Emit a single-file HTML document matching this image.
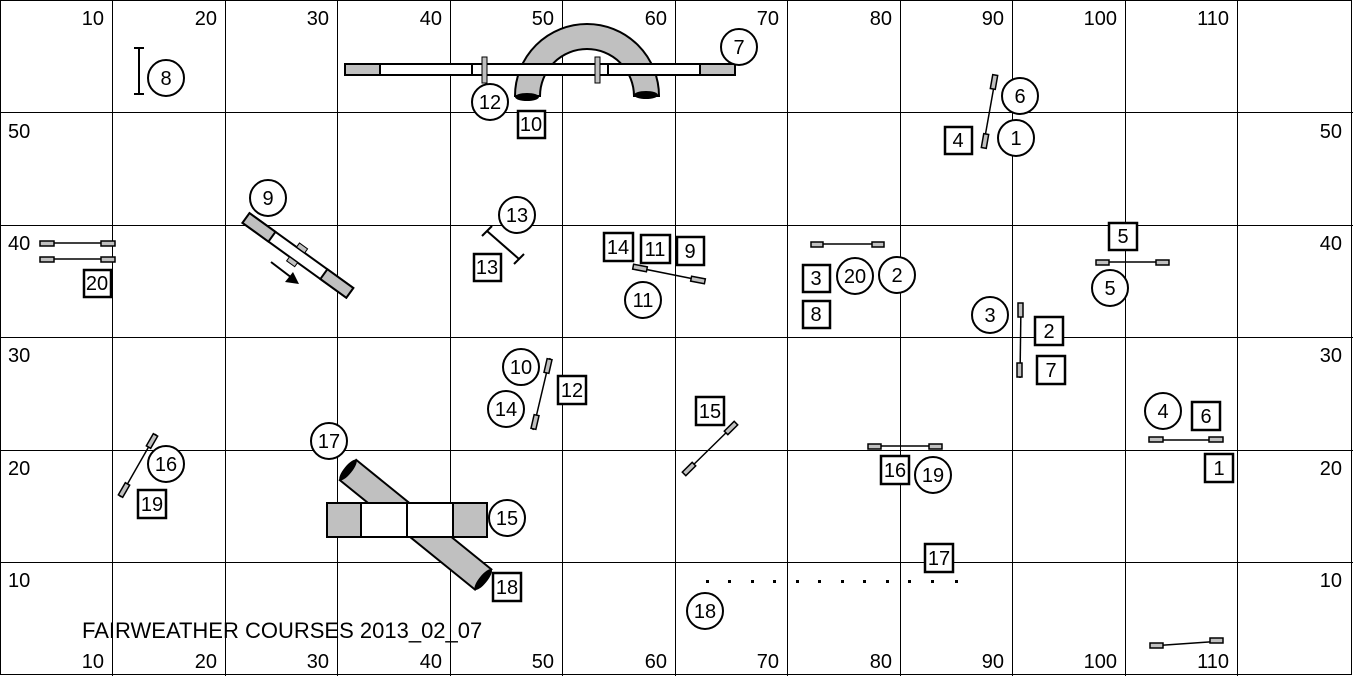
<!DOCTYPE html>
<html><head><style>body{margin:0;background:#fff}svg{display:block}text{font-family:"Liberation Sans",sans-serif;font-size:20px}</style></head><body>
<svg width="1353" height="676" viewBox="0 0 1353 676" xmlns="http://www.w3.org/2000/svg">
<rect x="0.5" y="0.5" width="1351" height="674" fill="#fff" stroke="#000"/>
<g stroke="#000" stroke-width="1">
<line x1="112.5" y1="0" x2="112.5" y2="676"/><line x1="225.5" y1="0" x2="225.5" y2="676"/><line x1="337.5" y1="0" x2="337.5" y2="676"/><line x1="450.5" y1="0" x2="450.5" y2="676"/><line x1="562.5" y1="0" x2="562.5" y2="676"/><line x1="675.5" y1="0" x2="675.5" y2="676"/><line x1="787.5" y1="0" x2="787.5" y2="676"/><line x1="900.5" y1="0" x2="900.5" y2="676"/><line x1="1012.5" y1="0" x2="1012.5" y2="676"/><line x1="1125.5" y1="0" x2="1125.5" y2="676"/><line x1="1237.5" y1="0" x2="1237.5" y2="676"/>
<line x1="0" y1="112.5" x2="1353" y2="112.5"/><line x1="0" y1="225.5" x2="1353" y2="225.5"/><line x1="0" y1="337.5" x2="1353" y2="337.5"/><line x1="0" y1="450.5" x2="1353" y2="450.5"/><line x1="0" y1="562.5" x2="1353" y2="562.5"/>
</g>
<g text-anchor="end">
<text x="104" y="25">10</text><text x="217" y="25">20</text><text x="329" y="25">30</text><text x="442" y="25">40</text><text x="554" y="25">50</text><text x="667" y="25">60</text><text x="779" y="25">70</text><text x="892" y="25">80</text><text x="1004" y="25">90</text><text x="1117" y="25">100</text><text x="1229" y="25">110</text>
<text x="104" y="668">10</text><text x="217" y="668">20</text><text x="329" y="668">30</text><text x="442" y="668">40</text><text x="554" y="668">50</text><text x="667" y="668">60</text><text x="779" y="668">70</text><text x="892" y="668">80</text><text x="1004" y="668">90</text><text x="1117" y="668">100</text><text x="1229" y="668">110</text>
<text x="1342" y="138">50</text><text x="1342" y="250">40</text><text x="1342" y="362">30</text><text x="1342" y="475">20</text><text x="1342" y="587">10</text>
</g>
<text x="8" y="138">50</text><text x="8" y="250">40</text><text x="8" y="362">30</text><text x="8" y="475">20</text><text x="8" y="587">10</text>
<text x="82" y="638" style="font-size:22px">FAIRWEATHER COURSES 2013_02_07</text>
<path d="M515,96 A72,72 0 0 1 659,96 L634,96 A47,47 0 0 0 540,96 Z" fill="#c0c0c0" stroke="#000" stroke-width="2"/>
<ellipse cx="527" cy="97" rx="12" ry="4"/><ellipse cx="646" cy="95" rx="12" ry="4"/>
<rect x="345" y="64" width="390" height="11" fill="#fff" stroke="#000" stroke-width="2"/>
<rect x="345" y="64" width="35" height="11" fill="#c0c0c0" stroke="#000" stroke-width="2"/>
<rect x="700" y="64" width="35" height="11" fill="#c0c0c0" stroke="#000" stroke-width="2"/>
<line x1="472" y1="64" x2="472" y2="75" stroke="#000" stroke-width="2"/><line x1="608" y1="64" x2="608" y2="75" stroke="#000" stroke-width="2"/>
<rect x="482" y="57" width="5" height="26" fill="#c0c0c0" stroke="#000"/><rect x="595" y="57" width="5" height="26" fill="#c0c0c0" stroke="#000"/>
<g transform="translate(246,218) rotate(35.8)">
<rect x="0" y="-6" width="128" height="12" fill="#fff" stroke="#000" stroke-width="2"/>
<rect x="0" y="-6" width="32" height="12" fill="#c0c0c0" stroke="#000" stroke-width="2"/>
<rect x="96" y="-6" width="32" height="12" fill="#c0c0c0" stroke="#000" stroke-width="2"/>
<rect x="58" y="-11" width="10" height="5" fill="#c0c0c0" stroke="#000"/><rect x="58" y="6" width="10" height="5" fill="#c0c0c0" stroke="#000"/>
</g>
<line x1="271" y1="262" x2="292" y2="278" stroke="#000" stroke-width="2"/><polygon points="299,284 285,282 293,272"/>
<g transform="translate(348,470) rotate(39)">
<rect x="0" y="-13" width="174" height="26" fill="#c0c0c0" stroke="#000" stroke-width="2"/>
<ellipse cx="0" cy="0" rx="4" ry="13"/><ellipse cx="174" cy="0" rx="4" ry="13"/>
</g>
<rect x="327" y="503" width="160" height="34" fill="#fff" stroke="#000" stroke-width="2"/>
<rect x="327" y="503" width="34" height="34" fill="#c0c0c0" stroke="#000" stroke-width="2"/>
<rect x="453" y="503" width="34" height="34" fill="#c0c0c0" stroke="#000" stroke-width="2"/>
<line x1="407" y1="503" x2="407" y2="537" stroke="#000" stroke-width="2"/>
<g stroke="#000" stroke-width="1.5" fill="#c0c0c0">
<line x1="40" y1="243" x2="115" y2="243"/><rect x="40" y="241" width="14" height="5"/><rect x="101" y="241" width="14" height="5"/>
<line x1="40" y1="259" x2="115" y2="259"/><rect x="40" y="257" width="14" height="5"/><rect x="101" y="257" width="14" height="5"/>
<line x1="812" y1="244" x2="884" y2="244"/><rect x="811" y="242" width="12" height="5"/><rect x="872" y="242" width="12" height="5"/>
<line x1="1097" y1="262" x2="1168" y2="262"/><rect x="1096" y="260" width="13" height="5"/><rect x="1156" y="260" width="13" height="5"/>
<line x1="869" y1="446" x2="942" y2="446"/><rect x="868" y="444" width="13" height="5"/><rect x="929" y="444" width="13" height="5"/>
<line x1="1150" y1="440" x2="1223" y2="440"/><rect x="1149" y="437" width="14" height="5"/><rect x="1209" y="437" width="14" height="5"/>
<line x1="1151" y1="646" x2="1223" y2="641"/><rect x="1150" y="643" width="13" height="5"/><rect x="1210" y="638" width="13" height="5"/>
<line x1="634" y1="267" x2="704" y2="281"/>
<g transform="translate(640,268) rotate(11)"><rect x="-7" y="-2.5" width="14" height="5"/></g>
<g transform="translate(698,280) rotate(11)"><rect x="-7" y="-2.5" width="14" height="5"/></g>
<line x1="996" y1="75" x2="983" y2="148"/>
<g transform="translate(994,82) rotate(-80)"><rect x="-7" y="-2.5" width="14" height="5"/></g>
<g transform="translate(985,141) rotate(-80)"><rect x="-7" y="-2.5" width="14" height="5"/></g>
<line x1="1021" y1="303" x2="1020" y2="378"/><rect x="1018" y="303" width="5" height="14"/><rect x="1017" y="363" width="5" height="14"/>
<line x1="550" y1="358" x2="533" y2="430"/>
<g transform="translate(548,366) rotate(-77)"><rect x="-7" y="-2.5" width="14" height="5"/></g>
<g transform="translate(535,422) rotate(-77)"><rect x="-7" y="-2.5" width="14" height="5"/></g>
<line x1="736" y1="423" x2="684" y2="474"/>
<g transform="translate(731,428) rotate(-45)"><rect x="-7" y="-2.5" width="14" height="5"/></g>
<g transform="translate(689,469) rotate(-45)"><rect x="-7" y="-2.5" width="14" height="5"/></g>
<line x1="156" y1="434" x2="120" y2="497"/>
<g transform="translate(152,441) rotate(-60)"><rect x="-7" y="-2.5" width="14" height="5"/></g>
<g transform="translate(124,490) rotate(-60)"><rect x="-7" y="-2.5" width="14" height="5"/></g>
</g>
<g stroke="#000" stroke-width="2">
<line x1="139" y1="48" x2="139" y2="94"/><line x1="134" y1="48" x2="144" y2="48"/><line x1="134" y1="94" x2="144" y2="94"/>
<line x1="487" y1="231" x2="519" y2="259"/><line x1="482" y1="236" x2="492" y2="226"/><line x1="514" y1="264" x2="524" y2="254"/>
</g>
<g fill="#000">
<rect x="706" y="580" width="3" height="3"/><rect x="728" y="580" width="3" height="3"/><rect x="751" y="580" width="3" height="3"/><rect x="773" y="580" width="3" height="3"/><rect x="796" y="580" width="3" height="3"/><rect x="818" y="580" width="3" height="3"/><rect x="841" y="580" width="3" height="3"/><rect x="863" y="580" width="3" height="3"/><rect x="886" y="580" width="3" height="3"/><rect x="908" y="580" width="3" height="3"/><rect x="931" y="580" width="3" height="3"/><rect x="955" y="580" width="3" height="3"/>
</g>
<g fill="#fff" stroke="#000" stroke-width="2">
<circle cx="166" cy="78" r="18"/><circle cx="739" cy="47" r="18"/><circle cx="490" cy="102" r="18"/><circle cx="1020" cy="96" r="18"/><circle cx="1016" cy="138" r="18"/><circle cx="268" cy="198" r="18"/><circle cx="517" cy="215" r="18"/><circle cx="643" cy="300" r="18"/><circle cx="855" cy="276" r="18"/><circle cx="897" cy="275" r="18"/><circle cx="990" cy="315" r="18"/><circle cx="1110" cy="288" r="18"/><circle cx="521" cy="367" r="18"/><circle cx="506" cy="409" r="18"/><circle cx="1163" cy="411" r="18"/><circle cx="166" cy="464" r="18"/><circle cx="329" cy="441" r="18"/><circle cx="507" cy="518" r="18"/><circle cx="933" cy="475" r="18"/><circle cx="705" cy="611" r="18"/>
</g>
<g fill="#fff" stroke="#000" stroke-width="2.5">
<rect x="518" y="111" width="27" height="27"/><rect x="945" y="127" width="27" height="27"/><rect x="84" y="270" width="27" height="27"/><rect x="474" y="254" width="27" height="27"/><rect x="604" y="233" width="29" height="28"/><rect x="641" y="235" width="29" height="28"/><rect x="677" y="237" width="27" height="28"/><rect x="803" y="265" width="27" height="27"/><rect x="803" y="301" width="27" height="27"/><rect x="1109" y="223" width="28" height="27"/><rect x="1035" y="317" width="28" height="28"/><rect x="1037" y="356" width="28" height="28"/><rect x="558" y="376" width="28" height="28"/><rect x="696" y="397" width="28" height="28"/><rect x="1192" y="402" width="28" height="28"/><rect x="1205" y="454" width="28" height="28"/><rect x="881" y="456" width="28" height="28"/><rect x="138" y="490" width="28" height="28"/><rect x="493" y="573" width="28" height="28"/><rect x="925" y="544" width="28" height="28"/>
</g>
<g text-anchor="middle">
<text x="166" y="85">8</text><text x="739" y="54">7</text><text x="490" y="109">12</text><text x="1020" y="103">6</text><text x="1016" y="145">1</text><text x="268" y="205">9</text><text x="517" y="222">13</text><text x="643" y="307">11</text><text x="855" y="283">20</text><text x="897" y="282">2</text><text x="990" y="322">3</text><text x="1110" y="295">5</text><text x="521" y="374">10</text><text x="506" y="416">14</text><text x="1163" y="418">4</text><text x="166" y="471">16</text><text x="329" y="448">17</text><text x="507" y="525">15</text><text x="933" y="482">19</text><text x="705" y="618">18</text>
<text x="531" y="131">10</text><text x="958" y="147">4</text><text x="97" y="290">20</text><text x="487" y="274">13</text><text x="618" y="254">14</text><text x="655" y="256">11</text><text x="690" y="258">9</text><text x="816" y="285">3</text><text x="816" y="321">8</text><text x="1123" y="243">5</text><text x="1049" y="338">2</text><text x="1051" y="377">7</text><text x="572" y="397">12</text><text x="710" y="418">15</text><text x="1206" y="423">6</text><text x="1219" y="475">1</text><text x="895" y="477">16</text><text x="152" y="511">19</text><text x="507" y="594">18</text><text x="939" y="565">17</text>
</g>
</svg>
</body></html>
